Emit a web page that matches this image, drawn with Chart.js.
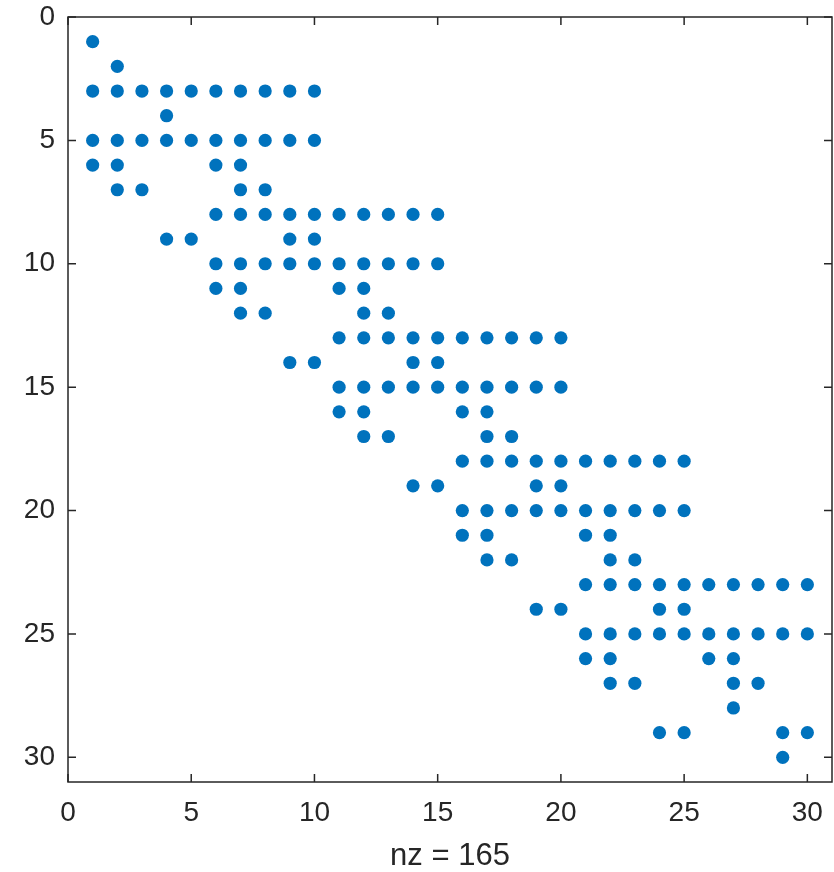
<!DOCTYPE html>
<html lang="en">
<head>
    <meta charset="UTF-8">
    <title>Sparsity pattern</title>
    <script src="https://cdn.jsdelivr.net/npm/chart.js"></script>
    <style>
        body { margin: 0; background: #fff; }
        #wrap { width: 834px; height: 872px; }
    </style>
</head>
<body>
    <div id="wrap"><canvas id="spyChart" width="834" height="872"></canvas></div>
    <script>
        // nonzero columns for each row of the matrix
        const rowNumbers = [1, 2, 3, 4, 5, 6, 7, 8, 9, 10, 11, 12, 13, 14, 15,
                            16, 17, 18, 19, 20, 21, 22, 23, 24, 25, 26, 27, 28, 29, 30];
        const rowColumns = [
            [1],
            [2],
            [1, 2, 3, 4, 5, 6, 7, 8, 9, 10],
            [4],
            [1, 2, 3, 4, 5, 6, 7, 8, 9, 10],
            [1, 2, 6, 7],
            [2, 3, 7, 8],
            [6, 7, 8, 9, 10, 11, 12, 13, 14, 15],
            [4, 5, 9, 10],
            [6, 7, 8, 9, 10, 11, 12, 13, 14, 15],
            [6, 7, 11, 12],
            [7, 8, 12, 13],
            [11, 12, 13, 14, 15, 16, 17, 18, 19, 20],
            [9, 10, 14, 15],
            [11, 12, 13, 14, 15, 16, 17, 18, 19, 20],
            [11, 12, 16, 17],
            [12, 13, 17, 18],
            [16, 17, 18, 19, 20, 21, 22, 23, 24, 25],
            [14, 15, 19, 20],
            [16, 17, 18, 19, 20, 21, 22, 23, 24, 25],
            [16, 17, 21, 22],
            [17, 18, 22, 23],
            [21, 22, 23, 24, 25, 26, 27, 28, 29, 30],
            [19, 20, 24, 25],
            [21, 22, 23, 24, 25, 26, 27, 28, 29, 30],
            [21, 22, 26, 27],
            [22, 23, 27, 28],
            [27],
            [24, 25, 29, 30],
            [29]
        ];
        const tickValues = [0, 5, 10, 15, 20, 25, 30];
        const axisMax = 31;
        const nzLabel = 'nz = 165';

        const points = [];
        rowNumbers.forEach((r, i) => {
            rowColumns[i].forEach(c => points.push({ x: c, y: r }));
        });

        const axisColor = '#262626';
        const fontFamily = '"Liberation Sans", Arial, sans-serif';

        // MATLAB-style box with inward ticks
        const boxPlugin = {
            id: 'boxPlugin',
            afterDraw(chart) {
                const ctx = chart.ctx;
                const a = chart.chartArea;
                const xs = chart.scales.x, ys = chart.scales.y;
                const len = 8;
                ctx.save();
                ctx.strokeStyle = axisColor;
                ctx.lineWidth = 1.5;
                ctx.strokeRect(a.left, a.top, a.right - a.left, a.bottom - a.top);
                ctx.beginPath();
                tickValues.forEach(v => {
                    const px = xs.getPixelForValue(v);
                    ctx.moveTo(px, a.bottom); ctx.lineTo(px, a.bottom - len);
                    ctx.moveTo(px, a.top); ctx.lineTo(px, a.top + len);
                    const py = ys.getPixelForValue(v);
                    ctx.moveTo(a.left, py); ctx.lineTo(a.left + len, py);
                    ctx.moveTo(a.right, py); ctx.lineTo(a.right - len, py);
                });
                ctx.stroke();
                ctx.restore();
            }
        };

        new Chart(document.getElementById('spyChart').getContext('2d'), {
            type: 'scatter',
            data: {
                datasets: [{
                    data: points,
                    backgroundColor: '#0072BD',
                    borderColor: '#0072BD',
                    borderWidth: 0,
                    pointRadius: 6.6,
                    pointHoverRadius: 6.6
                }]
            },
            options: {
                responsive: false,
                animation: false,
                layout: { autoPadding: false, padding: { top: 17, right: 2, left: 0, bottom: 0 } },
                plugins: { legend: { display: false }, tooltip: { enabled: false } },
                scales: {
                    x: {
                        type: 'linear',
                        min: 0,
                        max: axisMax,
                        afterBuildTicks: s => { s.ticks = tickValues.map(v => ({ value: v })); },
                        afterFit: s => { s.height = 90; s.paddingLeft = 0; s.paddingRight = 0; },
                        grid: { display: false, drawTicks: false },
                        border: { display: false },
                        ticks: {
                            color: axisColor,
                            padding: 14,
                            maxRotation: 0,
                            font: { family: fontFamily, size: 28 }
                        },
                        title: {
                            display: true,
                            text: nzLabel,
                            color: axisColor,
                            padding: { top: 0, bottom: -3 },
                            font: { family: fontFamily, size: 31 }
                        }
                    },
                    y: {
                        type: 'linear',
                        reverse: true,
                        min: 0,
                        max: axisMax,
                        afterBuildTicks: s => { s.ticks = tickValues.map(v => ({ value: v })); },
                        afterFit: s => { s.width = 68; s.paddingTop = 0; s.paddingBottom = 0; },
                        grid: { display: false, drawTicks: false },
                        border: { display: false },
                        ticks: {
                            color: axisColor,
                            padding: 13,
                            font: { family: fontFamily, size: 28 }
                        }
                    }
                }
            },
            plugins: [boxPlugin]
        });
    </script>
</body>
</html>
